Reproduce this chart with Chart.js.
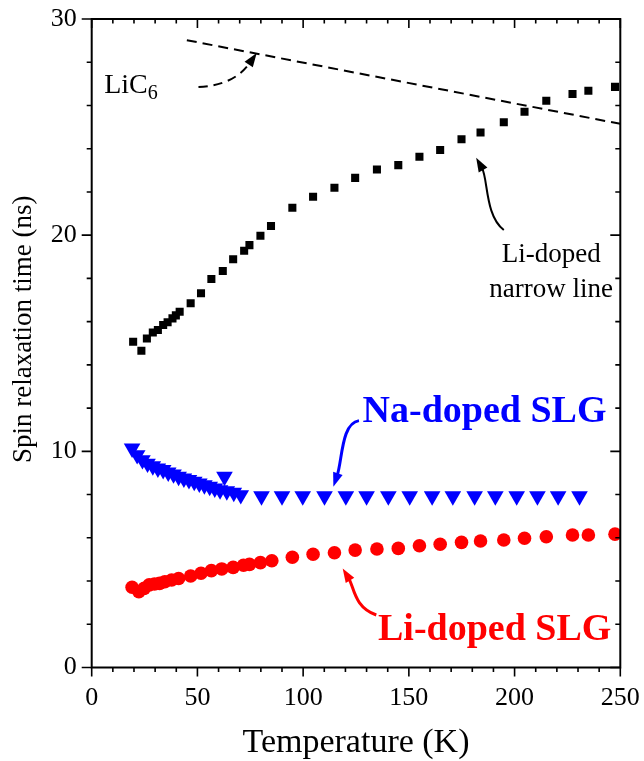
<!DOCTYPE html>
<html>
<head>
<meta charset="utf-8">
<script src="https://cdn.jsdelivr.net/npm/chart.js@4.4.0/dist/chart.umd.min.js"></script>
<style>
html,body{margin:0;padding:0;background:#fff;}
#wrap{width:644px;height:761px;position:relative;}
</style>
</head>
<body>
<div id="wrap"><canvas id="c"></canvas></div>
<script>
// Li-doped narrow line (black squares)
const narrowT   = [19.6,23.5,26.1,28.9,31.3,33.8,35.9,38.2,39.8,41.6,46.8,51.7,56.6,62.0,66.9,72.1,74.6,79.8,84.8,94.9,104.7,114.8,124.6,134.9,145.0,155.0,164.8,174.9,183.9,194.9,204.7,215.0,227.4,234.9,247.5];
const narrowTau = [15.07,14.65,15.22,15.50,15.61,15.84,15.97,16.15,16.29,16.46,16.85,17.31,17.97,18.34,18.89,19.28,19.54,19.97,20.42,21.27,21.78,22.19,22.65,23.04,23.24,23.63,23.94,24.44,24.75,25.22,25.71,26.22,26.53,26.68,26.86];

// Na-doped SLG (blue triangles)
const naT   = [19.1,21.5,24.0,26.4,28.9,31.3,33.8,36.2,38.7,41.1,43.6,46.0,48.5,50.9,53.3,55.8,58.2,60.7,62.8,63.9,67.2,70.5,80.3,90.0,99.8,110.1,120.2,130.0,140.3,150.4,161.0,170.8,181.1,190.9,201.0,210.8,220.6,230.7];
const naTau = [10.14,9.83,9.60,9.44,9.32,9.21,9.14,9.03,8.94,8.83,8.75,8.68,8.60,8.52,8.44,8.37,8.29,8.21,8.83,8.16,8.09,7.98,7.93,7.93,7.93,7.93,7.93,7.93,7.93,7.93,7.93,7.93,7.93,7.93,7.93,7.93,7.93,7.93];

// Li-doped SLG (red circles)
const liT   = [19.1,22.3,24.8,27.2,29.7,32.1,34.6,37.8,41.1,46.8,51.7,56.6,61.5,66.9,71.8,74.6,79.8,85.2,94.9,104.7,114.8,124.6,134.9,145.0,155.0,164.8,174.9,183.9,194.9,204.7,215.0,227.4,234.9,247.5];
const liTau = [3.71,3.51,3.66,3.82,3.86,3.89,3.97,4.05,4.12,4.23,4.36,4.48,4.56,4.63,4.73,4.77,4.85,4.94,5.10,5.24,5.31,5.43,5.48,5.51,5.63,5.70,5.79,5.85,5.90,5.98,6.05,6.13,6.13,6.17];

// LiC6 reference (dashed line)
const lic6T   = [45, 250];
const lic6Tau = [29.02, 25.15];

const xMajor = [0, 50, 100, 150, 200, 250];
const yMajor = [0, 10, 20, 30];

const pts = (xs, ys) => xs.map((x, i) => ({x, y: ys[i]}));
const serif = '"Liberation Serif", "Times New Roman", serif';

// annotation arrows, in data units: start, control 1, control 2, end
const arrows = [
  {p: [[50.5,26.85],[62,26.9],[70,27.3],[77.5,28.35]], color:'#000', width:2, dash:[9,6]},
  {p: [[194.9,20.24],[186,20.9],[187.5,22.6],[182.3,23.5]], color:'#000', width:2, dash:[]},
  {p: [[126.4,11.42],[118,11.3],[118.6,9.6],[114.6,8.45]], color:'#0000ff', width:3, dash:[]},
  {p: [[134.6,2.43],[124,2.8],[124.2,3.7],[119.2,4.5]], color:'#ff0000', width:3, dash:[]}
];

const frame = {
  id: 'frame',
  afterDraw(chart) {
    const {ctx, chartArea: a, scales: {x, y}} = chart;
    ctx.save();
    ctx.strokeStyle = '#000';
    ctx.lineWidth = 1.6;
    ctx.beginPath();
    for (let t = 0; t <= 250; t += 10) {
      const px = x.getPixelForValue(t);
      const L = xMajor.includes(t) ? 9 : 4.5;
      ctx.moveTo(px, a.bottom); ctx.lineTo(px, a.bottom + L);
      ctx.moveTo(px, a.top); ctx.lineTo(px, a.top + L);
    }
    for (let v = 0; v <= 30; v += 2) {
      const py = y.getPixelForValue(v);
      const L = yMajor.includes(v) ? 10 : 5;
      ctx.moveTo(a.left - L, py); ctx.lineTo(a.left, py);
      ctx.moveTo(a.right, py); ctx.lineTo(a.right - L, py);
    }
    ctx.stroke();
    ctx.lineWidth = 2;
    ctx.strokeRect(a.left, a.top, a.right - a.left, a.bottom - a.top);

    // arrows
    arrows.forEach(ar => {
      const q = ar.p.map(([t, v]) => [x.getPixelForValue(t), y.getPixelForValue(v)]);
      ctx.strokeStyle = ar.color; ctx.fillStyle = ar.color;
      ctx.lineWidth = ar.width; ctx.setLineDash(ar.dash);
      const [s, c1, c2, e] = q;
      const ang = Math.atan2(e[1] - c2[1], e[0] - c2[0]);
      const len = 12, hw = 5;
      const bx = e[0] - Math.cos(ang) * len * 0.8, by = e[1] - Math.sin(ang) * len * 0.8;
      ctx.beginPath();
      ctx.moveTo(s[0], s[1]);
      ctx.bezierCurveTo(c1[0], c1[1], c2[0], c2[1], bx, by);
      ctx.stroke();
      ctx.setLineDash([]);
      ctx.beginPath();
      ctx.moveTo(e[0] + Math.cos(ang) * 2, e[1] + Math.sin(ang) * 2);
      ctx.lineTo(e[0] - Math.cos(ang) * len - Math.sin(ang) * hw, e[1] - Math.sin(ang) * len + Math.cos(ang) * hw);
      ctx.lineTo(e[0] - Math.cos(ang) * len + Math.sin(ang) * hw, e[1] - Math.sin(ang) * len - Math.cos(ang) * hw);
      ctx.closePath();
      ctx.fill();
    });

    // y axis title, sits a little above the centre as in the original
    ctx.save();
    ctx.translate(23.5, (a.top + a.bottom) / 2 - 14);
    ctx.rotate(-Math.PI / 2);
    ctx.font = '27px ' + serif;
    ctx.textAlign = 'center';
    ctx.textBaseline = 'middle';
    ctx.fillStyle = '#000';
    ctx.fillText('Spin relaxation time (ns)', 0, 0);
    ctx.restore();

    // labels
    ctx.textBaseline = 'alphabetic';
    ctx.fillStyle = '#000';
    ctx.font = '28px ' + serif;
    ctx.textAlign = 'left';
    const lx = x.getPixelForValue(5.9), ly = y.getPixelForValue(26.57);
    ctx.fillText('LiC', lx, ly);
    const w = ctx.measureText('LiC').width;
    ctx.font = '20px ' + serif;
    ctx.fillText('6', lx + w, ly + 6);

    ctx.font = '27px ' + serif;
    ctx.textAlign = 'center';
    ctx.fillText('Li-doped', x.getPixelForValue(217.3), y.getPixelForValue(18.76));
    ctx.fillText('narrow line', x.getPixelForValue(217.3), y.getPixelForValue(17.14));

    ctx.font = 'bold 38px ' + serif;
    ctx.textAlign = 'left';
    ctx.fillStyle = '#0000ff';
    ctx.fillText('Na-doped SLG', x.getPixelForValue(128.1), y.getPixelForValue(11.37));
    ctx.fillStyle = '#ff0000';
    ctx.fillText('Li-doped SLG', x.getPixelForValue(135.4), y.getPixelForValue(1.27));
    ctx.restore();
  }
};

// keep the tick labels from pushing the plot area inwards
function noOverhang(s) {
  s.paddingTop = 0; s.paddingBottom = 0; s.paddingLeft = 0; s.paddingRight = 0;
}

new Chart(document.getElementById('c'), {
  type: 'scatter',
  data: {
    datasets: [
      {label:'LiC6', data: pts(lic6T, lic6Tau), showLine:true, borderColor:'#000', borderWidth:2, borderDash:[10,6], pointRadius:0, fill:false},
      {label:'Li-doped narrow line', data: pts(narrowT, narrowTau), pointStyle:'rect', pointRadius:5.7, backgroundColor:'#000', borderWidth:0},
      {label:'Na-doped SLG', data: pts(naT, naTau), pointStyle:'triangle', rotation:180, pointRadius:9.6, backgroundColor:'#0000ff', borderWidth:0},
      {label:'Li-doped SLG', data: pts(liT, liTau), pointStyle:'circle', pointRadius:6.8, backgroundColor:'#ff0000', borderWidth:0}
    ]
  },
  options: {
    responsive:true, maintainAspectRatio:false, animation:false,
    layout:{padding:{top:19, right:23.7, left:0, bottom:0}},
    plugins:{legend:{display:false}, tooltip:{enabled:false}},
    scales:{
      x:{type:'linear', min:0, max:250,
        grid:{display:false, drawTicks:false}, border:{display:false},
        ticks:{stepSize:50, padding:15, color:'#000', font:{family:serif, size:26}, maxRotation:0},
        title:{display:true, text:'Temperature (K)', color:'#000', font:{family:serif, size:34, lineHeight:1}, padding:{top:0, bottom:1}},
        afterFit(s){ s.height = 93.5; noOverhang(s); }
      },
      y:{type:'linear', min:0, max:30,
        grid:{display:false, drawTicks:false}, border:{display:false},
        ticks:{stepSize:10, padding:15, color:'#000', font:{family:serif, size:26}},
        title:{display:false},
        afterFit(s){ s.width = 91.7; noOverhang(s); }
      }
    }
  },
  plugins:[frame]
});
</script>
</body>
</html>
